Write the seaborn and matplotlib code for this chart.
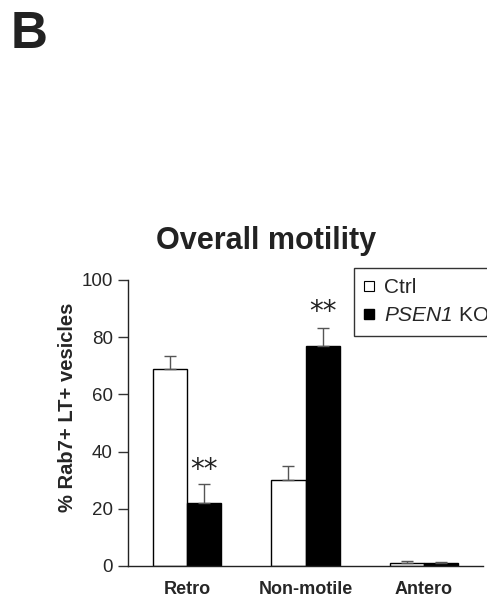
import pandas as pd
import matplotlib.pyplot as plt
import seaborn as sns
from matplotlib.lines import Line2D

# data
categories = ['Retro', 'Non-motile', 'Antero']
groups = ['Ctrl', 'PSEN1 KO']
ctrl_mean = [68.9, 30.1, 1.2]
ctrl_err = [4.6, 4.9, 0.6]
ko_mean = [22.1, 77.0, 1.0]
ko_err = [6.6, 6.3, 0.5]
stars = ['**', '**', '']
star_y = [30.8, 86.0, None]

df = pd.DataFrame({
    'cat': categories * 2,
    'group': [groups[0]] * 3 + [groups[1]] * 3,
    'val': ctrl_mean + ko_mean,
    'err': ctrl_err + ko_err,
})

sns.set_theme(style="white")
plt.rcParams['font.family'] = ['Liberation Sans', 'DejaVu Sans']
plt.rcParams['mathtext.fontset'] = 'custom'
plt.rcParams['mathtext.rm'] = 'Liberation Sans:italic'
plt.rcParams['mathtext.it'] = 'Liberation Sans:italic'

fig = plt.figure(figsize=(4.87, 6.01), dpi=100)
ax = fig.add_axes([128 / 487, 1 - 566 / 601, 355 / 487, 286 / 601])

sns.barplot(data=df, x='cat', y='val', hue='group', order=categories,
            hue_order=groups, palette=['white', 'black'], width=0.575,
            edgecolor='black', linewidth=1.0, errorbar=None, legend=False,
            ax=ax)

# one-sided error bars (upper only)
bars = ax.patches[:6]
for rect, (_, row) in zip(bars, df.iterrows()):
    xc = rect.get_x() + rect.get_width() / 2
    ax.errorbar(xc, row['val'], yerr=[[0], [row['err']]], fmt='none',
                ecolor='#555555', elinewidth=1.0, capsize=4, capthick=1.0,
                zorder=1)

for i, s in enumerate(stars):
    if s:
        ax.text(i + 0.144, star_y[i], s, ha='center', va='baseline',
                fontsize=20, family='DejaVu Sans', color='#222222')

ax.set_xlim(-0.5, 2.5)
ax.set_ylim(0, 100)
ax.set_yticks([0, 20, 40, 60, 80, 100])
ax.tick_params(axis='y', direction='out', length=7, width=1, color='#333333',
               labelsize=13.5, pad=4, left=True)
ax.tick_params(axis='x', length=0, labelsize=13, pad=11)
for lab in ax.get_xticklabels():
    lab.set_fontweight('bold')
ax.set_xlabel('')
ax.set_ylabel('% Rab7+ LT+ vesicles', fontsize=14.5, fontweight='bold')
ax.yaxis.set_label_coords(-0.1435, 0.556)
for sp in ['top', 'right']:
    ax.spines[sp].set_visible(False)
for sp in ['left', 'bottom']:
    ax.spines[sp].set_color('#222222')
    ax.spines[sp].set_linewidth(1.0)

fig.text(266 / 487, 1 - 241 / 601, 'Overall motility', ha='center',
         va='center', fontsize=22, fontweight='bold', color='#222222')
fig.text(11 / 487, 1 - 34 / 601, 'B', ha='left', va='center',
         fontsize=37, fontweight='bold', color='#222222')

# legend runs past the right edge, as in the original panel
handles = [
    Line2D([], [], marker='s', linestyle='none', markerfacecolor='white',
           markeredgecolor='black', markersize=7, markeredgewidth=0.8),
    Line2D([], [], marker='s', linestyle='none', markerfacecolor='black',
           markeredgecolor='black', markersize=7),
]
leg = ax.legend(handles, ['Ctrl', r'$\mathit{PSEN1}$ KO'], loc='upper left',
                bbox_to_anchor=(354 / 487, 1 - 268 / 601),
                bbox_transform=fig.transFigure, fontsize=15,
                frameon=True, fancybox=False, handlelength=0.4,
                handletextpad=0.55, borderpad=0.5, labelspacing=0.42,
                borderaxespad=0)
leg.get_frame().set_edgecolor('black')
leg.get_frame().set_linewidth(1.0)

fig.savefig('out.png', dpi=100)
